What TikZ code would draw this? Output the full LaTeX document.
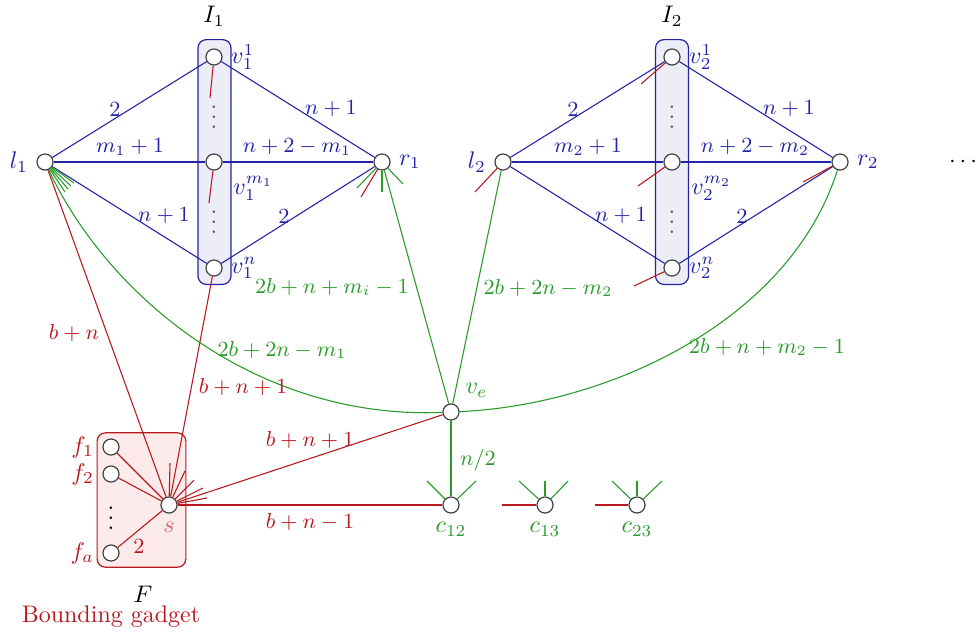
\documentclass[tikz,border=0pt]{standalone}
\definecolor{cblue}{RGB}{35,35,165}
\definecolor{cred}{RGB}{185,25,30}
\definecolor{cgreen}{RGB}{40,155,40}
\definecolor{ffill}{RGB}{253,234,234}
\begin{document}
\begin{tikzpicture}[x=0.4167pt,y=-0.4167pt,
  vert/.style={circle,draw=black!75,fill=white,minimum size=6.7pt,inner sep=0pt,line width=0.5pt},
  bl/.style={cblue,line width=0.45pt},
  rd/.style={cred,line width=0.45pt},
  gr/.style={cgreen,line width=0.45pt},
  elab/.style={font=\small,inner sep=0pt},
  ibox/.style={draw=cblue,fill=cblue!8,rounded corners=3.5pt,line width=0.5pt,minimum width=13.75pt,minimum height=102pt,inner sep=0pt},
  fbox/.style={draw=cred,fill=ffill,rounded corners=3.5pt,line width=0.5pt,minimum width=37pt,minimum height=56pt,inner sep=0pt},
  dotsg/.style={text=black!65},
]
\useasboundingbox (0,0) rectangle (976,635);

% group boxes
\node[ibox] (box1) at (214.5,162) {};
\node[ibox] (box2) at (672,162) {};
\node[fbox] (boxF) at (141.5,500) {};

\node[dotsg] (vd11) at (214,110) {$\vdots$};
\node[dotsg] (vd12) at (214,215) {$\vdots$};
\node[dotsg] (vd21) at (672,110) {$\vdots$};
\node[dotsg] (vd22) at (672,215) {$\vdots$};
\node (vdF) at (111,511) {$\vdots$};

% vertices
\node[vert,label={[text=cblue]left:$l_1$}] (l1) at (45,162) {};
\node[vert,label={[text=cblue]right:$v_1^1$}] (v11) at (214,57) {};
\node[vert,label={[text=cblue,xshift=2pt]below right:$v_1^{m_1}$}] (v1m) at (214,162) {};
\node[vert,label={[text=cblue]right:$v_1^n$}] (v1n) at (214,268) {};
\node[vert,label={[text=cblue]right:$r_1$}] (r1) at (382,162) {};

\node[vert,label={[text=cblue]left:$l_2$}] (l2) at (503,162) {};
\node[vert,label={[text=cblue]right:$v_2^1$}] (v21) at (672,57) {};
\node[vert,label={[text=cblue,xshift=2pt]below right:$v_2^{m_2}$}] (v2m) at (672,162) {};
\node[vert,label={[text=cblue]right:$v_2^n$}] (v2n) at (672,268) {};
\node[vert,label={[text=cblue]right:$r_2$}] (r2) at (840,162) {};

\node[vert,label={[text=cgreen]above right:$v_e$}] (ve) at (451,412) {};
\node[vert,label={[text=cgreen]below:$c_{12}$}] (c12) at (451,505) {};
\node[vert,label={[text=cgreen]below:$c_{13}$}] (c13) at (545,505) {};
\node[vert,label={[text=cgreen]below:$c_{23}$}] (c23) at (637,505) {};

\node[vert,label={[text=cred!65]below:$s$}] (s) at (169,505) {};
\node[vert,label={[text=cred]left:$f_1$}] (f1) at (111,447) {};
\node[vert,label={[text=cred]left:$f_2$}] (f2) at (111,474) {};
\node[vert,label={[text=cred]left:$f_a$}] (fa) at (111,553) {};

% titles
\node (I1lab) at (214,16) {$I_1$};
\node (I2lab) at (672,16) {$I_2$};
\node (Flab) at (143,594) {$F$};
\node[text=cred] (bg) at (111,617) {Bounding gadget};
\node (more) at (963,162) {$\cdots$};

% blue edges
\draw[bl] (l1) -- (v11);
\draw[bl] (l1) -- (v1m);
\draw[bl] (l1) -- (v1n);
\draw[bl] (v11) -- (r1);
\draw[bl] (v1m) -- (r1);
\draw[bl] (v1n) -- (r1);
\draw[bl] (l2) -- (v21);
\draw[bl] (l2) -- (v2m);
\draw[bl] (l2) -- (v2n);
\draw[bl] (v21) -- (r2);
\draw[bl] (v2m) -- (r2);
\draw[bl] (v2n) -- (r2);

% red edges
\draw[rd] (l1) -- (s);
\draw[rd] (v1n) -- (s);
\draw[rd] (ve) -- (s);
\draw[rd] (c12) -- (s);
\draw[rd] (f1) -- (s);
\draw[rd] (f2) -- (s);
\draw[rd] (fa) -- (s);
% red stubs
\draw[rd] (v11) -- ++(-4,41);
\draw[rd] (v1m) -- ++(-5,41);
\draw[rd] (r1) -- ++(-21,35);
\draw[rd] (l2) -- ++(-28,30);
\draw[rd] (v21) -- ++(-31,27);
\draw[rd] (v2m) -- ++(-34,24);
\draw[rd] (v2n) -- ++(-38,18);
\draw[rd] (r2) -- ++(-37,20);
\draw[rd] (c13) -- ++(-43,0);
\draw[rd] (c23) -- ++(-42,0);
\draw[rd] (s) -- ++(1,-42);
\draw[rd] (s) -- ++(16,-34);
\draw[rd] (s) -- ++(25,-25);
\draw[rd] (s) -- ++(34,-17);
\draw[rd] (s) -- ++(38,-7);

% green edges
\draw[gr] (r1) -- (ve);
\draw[gr] (l2) -- (ve);
\draw[gr] (ve) -- (c12);
\draw[gr] (l1) .. controls (110,300) and (260,420) .. (ve);
\draw[gr] (ve) .. controls (610,405) and (790,320) .. (r2);
% green stubs
\draw[gr] (l1) -- ++(29,21);
\draw[gr] (l1) -- ++(26,24);
\draw[gr] (l1) -- ++(23,27);
\draw[gr] (l1) -- ++(20,30);
\draw[gr] (r1) -- ++(-25,26);
\draw[gr] (r1) -- ++(0,30);
\draw[gr] (r1) -- ++(21,22);
\draw[gr] (c12) -- ++(-24,-24);
\draw[gr] (c12) -- ++(25,-24);
\draw[gr] (c13) -- ++(-26,-24);
\draw[gr] (c13) -- ++(0,-24);
\draw[gr] (c13) -- ++(23,-24);
\draw[gr] (c23) -- ++(-25,-24);
\draw[gr] (c23) -- ++(0,-24);
\draw[gr] (c23) -- ++(25,-24);

% edge labels
\node[elab,text=cblue] (a1) at (115,110) {$2$};
\node[elab,text=cblue] (a2) at (130,147) {$m_1+1$};
\node[elab,text=cblue] (a3) at (164,216) {$n+1$};
\node[elab,text=cblue] (a4) at (331,109) {$n+1$};
\node[elab,text=cblue] (a5) at (297,147) {$n+2-m_1$};
\node[elab,text=cblue] (a6) at (284,217) {$2$};
\node[elab,text=cblue] (b1) at (573,110) {$2$};
\node[elab,text=cblue] (b2) at (588,147) {$m_2+1$};
\node[elab,text=cblue] (b3) at (621,216) {$n+1$};
\node[elab,text=cblue] (b4) at (789,109) {$n+1$};
\node[elab,text=cblue] (b5) at (755,147) {$n+2-m_2$};
\node[elab,text=cblue] (b6) at (742,217) {$2$};

\node[elab,text=cgreen] (g1) at (332,287) {$2b+n+m_i-1$};
\node[elab,text=cgreen] (g2) at (282,350) {$2b+2n-m_1$};
\node[elab,text=cgreen] (g3) at (548,288) {$2b+2n-m_2$};
\node[elab,text=cgreen] (g4) at (767,347) {$2b+n+m_2-1$};
\node[elab,text=cgreen] (g5) at (478,460) {$n/2$};

\node[elab,text=cred] (r1l) at (74,333) {$b+n$};
\node[elab,text=cred] (r2l) at (243,387) {$b+n+1$};
\node[elab,text=cred] (r3l) at (310,440) {$b+n+1$};
\node[elab,text=cred] (r4l) at (310,522) {$b+n-1$};
\node[elab,text=cred] (r5l) at (139,547) {$2$};
\end{tikzpicture}
\end{document}
